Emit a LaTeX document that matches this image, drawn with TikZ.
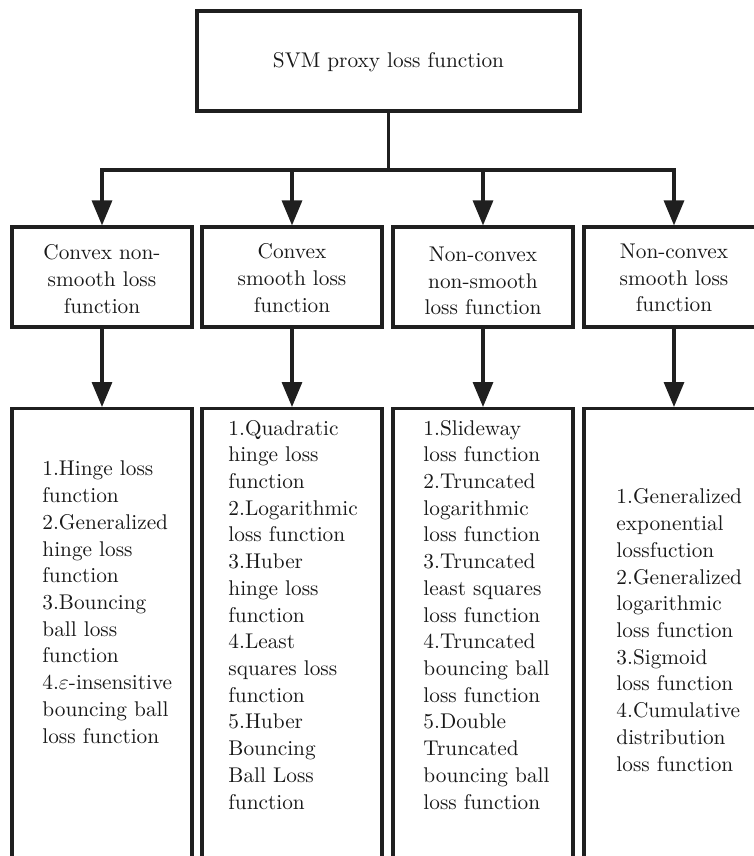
\documentclass[tikz,border=0pt]{standalone}
\usetikzlibrary{arrows.meta}
\begin{document}
\begin{tikzpicture}[x=1pt,y=-1pt,
  ln/.style={line width=3.2pt, draw=black!88},
  box/.style={ln, rectangle, inner sep=0pt, minimum width=180pt},
  arr/.style={ln, -{Triangle[width=20pt,length=25pt]}},
  txt/.style={font=\fontsize{10}{12.54}\selectfont, text=black!90, scale=2.13, transform shape, inner sep=0pt},
  lbl/.style={txt, align=center},
  list/.style={txt, align=left, anchor=base west}
]
\useasboundingbox (0,0) rectangle (753,856);
% top
\node[box, minimum width=383pt, minimum height=100pt] (top) at (388.5,61) {};
\node[txt] (topt) at (388.5,62) {SVM proxy loss function};
% level 2
\node[box, minimum height=100pt] (a2) at (102,277) {};
\node[box, minimum height=100pt] (b2) at (292,277) {};
\node[box, minimum height=100pt] (c2) at (483,277) {};
\node[box, minimum height=100pt] (d2) at (674,277) {};
\node[lbl] (a2t) at (102,279) {Convex non-\\smooth loss\\function};
\node[lbl] (b2t) at (292,278) {Convex\\smooth loss\\function};
\node[lbl] (c2t) at (483,281) {Non-convex\\non-smooth\\loss function};
\node[lbl] (d2t) at (674,278) {Non-convex\\smooth loss\\function};
% level 3 boxes
\node[box, minimum height=480pt, anchor=north] (a3) at (102,407) {};
\node[box, minimum height=480pt, anchor=north] (b3) at (292,407) {};
\node[box, minimum height=480pt, anchor=north] (c3) at (483,407) {};
\node[box, minimum height=480pt, anchor=north] (d3) at (674,407) {};
% level 3 texts (anchored at the baseline of the last line)
\node[list] (a3t) at (42,743) {1.Hinge loss\\function\\2.Generalized\\hinge loss\\function\\3.Bouncing\\ball loss\\function\\4.$\varepsilon$-insensitive\\bouncing ball\\loss function};
\node[list] (b3t) at (228,809) {1.Quadratic\\hinge loss\\function\\2.Logarithmic\\loss function\\3.Huber\\hinge loss\\function\\4.Least\\squares loss\\function\\5.Huber\\Bouncing\\Ball Loss\\function};
\node[list] (c3t) at (423,809) {1.Slideway\\loss function\\2.Truncated\\logarithmic\\loss function\\3.Truncated\\least squares\\loss function\\4.Truncated\\bouncing ball\\loss function\\5.Double\\Truncated\\bouncing ball\\loss function};
\node[list] (d3t) at (616,771) {1.Generalized\\exponential\\lossfuction\\2.Generalized\\logarithmic\\loss function\\3.Sigmoid\\loss function\\4.Cumulative\\distribution\\loss function};
% connectors
\coordinate (j) at (388.5,170);
\draw[ln] (top.south) -- (j);
\foreach \n in {a2,b2,c2,d2} \draw[arr] (j) -| (\n.north);
\draw[arr] (a2.south) -- (a3.north);
\draw[arr] (b2.south) -- (b3.north);
\draw[arr] (c2.south) -- (c3.north);
\draw[arr] (d2.south) -- (d3.north);
\end{tikzpicture}
\end{document}
